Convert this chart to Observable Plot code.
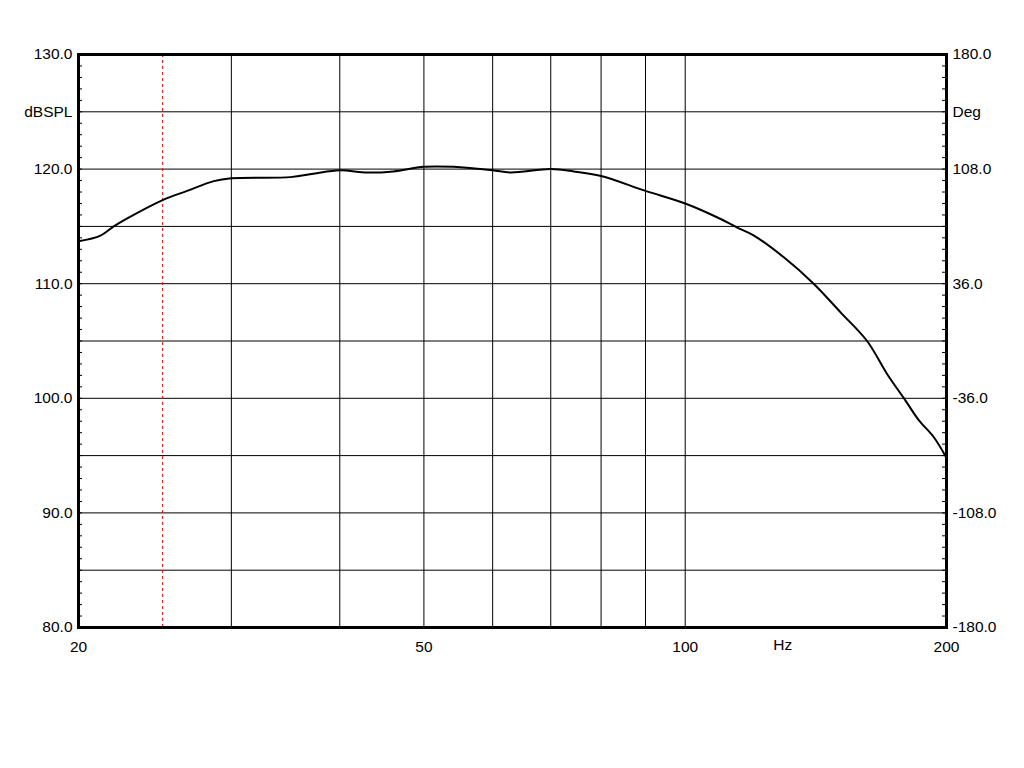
<!DOCTYPE html>
<html>
<head>
<meta charset="utf-8">
<script src="https://cdn.jsdelivr.net/npm/d3@7"></script>
<script src="https://cdn.jsdelivr.net/npm/@observablehq/plot@0.6"></script>
<style>
  html, body { margin: 0; padding: 0; background: #fff; }
</style>
</head>
<body>
<div id="chart"></div>
<script>
// Frequency (Hz) and SPL (dB)
const freqs = [20, 21.2, 21.96, 22.76, 25, 26.68, 28.64, 30, 35.1, 37.3, 40, 43.0, 46.1, 50, 54.1, 60, 62.9, 70, 74.4, 80, 90, 100, 108.8, 114.8, 120, 129.9, 140.6, 151, 162, 170.9, 179.4, 185.8, 193.4, 200];
const spl   = [113.7, 114.2, 115.0, 115.7, 117.3, 118.1, 118.95, 119.2, 119.3, 119.6, 119.9, 119.7, 119.8, 120.2, 120.2, 119.9, 119.7, 120.0, 119.8, 119.4, 118.1, 117.0, 115.8, 114.9, 114.2, 112.3, 110.0, 107.5, 105.0, 102.1, 99.8, 98.1, 96.6, 94.8];

const xTickLabels = [20, 50, 100, 200];
const xGrid = [30, 40, 50, 60, 70, 80, 90, 100];
const yGrid = [85, 90, 95, 100, 105, 110, 115, 120, 125];
const yTickLabels = [80, 90, 100, 110, 120, 130];
const minorTicks = d3.range(80, 131, 1);
const degTickLabels = [180, 108, 36, -36, -108, -180];
const markerFreq = [25];
const unitX = "Hz";
const unitXAt = 129.5;
const unitLeft = "dBSPL";
const unitRight = "Deg";
const unitYAt = 125;

// degree axis maps -180..180 onto 80..130 dB
const degToDb = d => 105 + d / 7.2;

const data = freqs.map((f, i) => ({f, db: spl[i]}));

const chart = Plot.plot({
  width: 1024,
  height: 768,
  marginLeft: 78,
  marginRight: 78,
  marginTop: 54,
  marginBottom: 141,
  style: {fontFamily: "'Liberation Sans', Arial, sans-serif", fontSize: "15.5px", color: "#000", background: "#fff"},
  x: {type: "log", domain: [20, 200]},
  y: {domain: [80, 130]},
  marks: [
    Plot.gridX(xGrid, {stroke: "#000", strokeOpacity: 1, strokeWidth: 1}),
    Plot.gridY(yGrid, {stroke: "#000", strokeOpacity: 1, strokeWidth: 1}),
    Plot.ruleX(markerFreq, {stroke: "#ff0000", strokeWidth: 1, strokeDasharray: "3,3"}),
    Plot.tickY(minorTicks, {y: d => d, stroke: "#000", strokeWidth: 1, insetRight: 864}),
    Plot.tickY(minorTicks, {y: d => d, stroke: "#000", strokeWidth: 1, insetLeft: 864}),
    Plot.line(data, {x: "f", y: "db", stroke: "#000", strokeWidth: 2, curve: "catmull-rom"}),
    Plot.frame({stroke: "#000", strokeWidth: 3}),
    Plot.axisY({ticks: yTickLabels, tickSize: 0, tickPadding: 6, tickFormat: d => d.toFixed(1), label: null, fill: "#000"}),
    Plot.axisX({ticks: xTickLabels, tickSize: 0, tickPadding: 13, tickFormat: d => String(d), label: null, fill: "#000"}),
    Plot.text(degTickLabels, {y: d => degToDb(d), text: d => d.toFixed(1), frameAnchor: "right", dx: 6, textAnchor: "start", fill: "#000"}),
    Plot.text([unitLeft], {y: unitYAt, text: d => d, frameAnchor: "left", dx: -6, textAnchor: "end", fill: "#000"}),
    Plot.text([unitRight], {y: unitYAt, text: d => d, frameAnchor: "right", dx: 6, textAnchor: "start", fill: "#000"}),
    Plot.text([unitX], {x: unitXAt, text: d => d, frameAnchor: "bottom", dy: 22, fill: "#000"})
  ]
});
document.getElementById("chart").appendChild(chart);
</script>
</body>
</html>
